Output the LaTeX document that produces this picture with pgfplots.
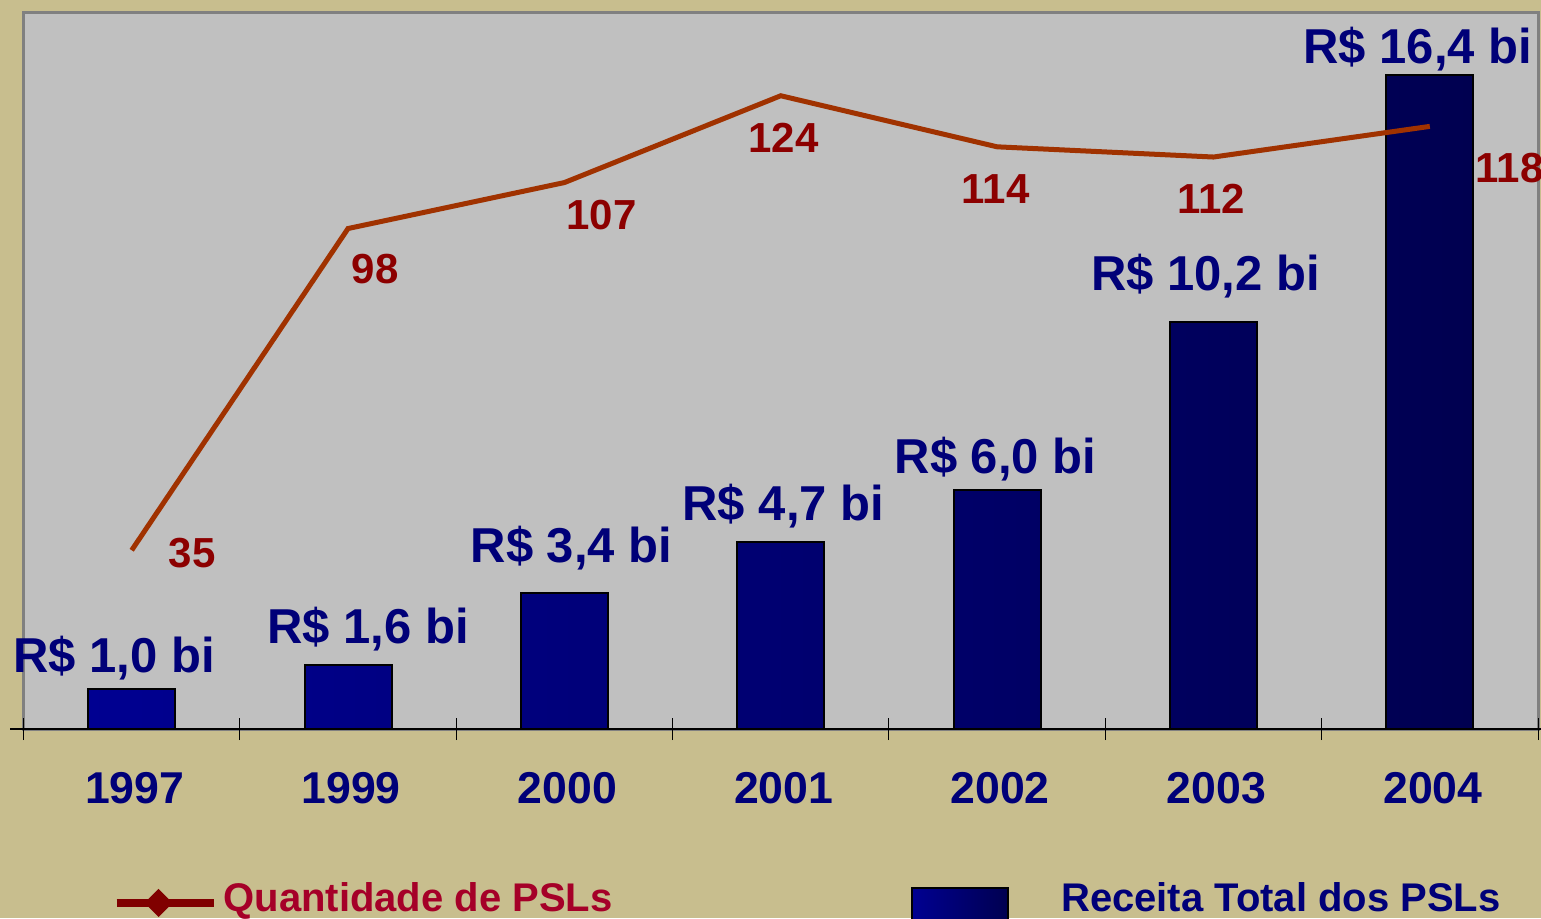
\documentclass[border=0pt]{standalone}
\usepackage{fontspec}
\setmainfont{Liberation Sans}
\usepackage{pgfplots}
\pgfplotsset{compat=1.18}
\definecolor{bgtan}{RGB}{200,190,142}
\definecolor{plotgray}{RGB}{192,192,192}
\definecolor{framegray}{RGB}{128,128,128}
\definecolor{linecol}{RGB}{160,50,0}
\definecolor{linelab}{RGB}{140,0,0}
\definecolor{navytxt}{RGB}{0,0,120}
\definecolor{barL}{RGB}{0,0,145}
\definecolor{barR}{RGB}{0,0,80}
\definecolor{legline}{RGB}{128,0,0}
\definecolor{legtxt}{RGB}{165,0,40}
\definecolor{legbox}{RGB}{0,0,128}
\tikzset{
  barlab/.style={anchor=base, text=navytxt, inner sep=0pt, font=\bfseries\fontsize{24.5}{29}\selectfont},
  linelabel/.style={anchor=base, text=linelab, inner sep=0pt, font=\bfseries\fontsize{21}{25}\selectfont},
}
\begin{document}
\begin{tikzpicture}
\path[use as bounding box, fill=bgtan] (0,0) rectangle (770.5pt,459pt);
\begin{axis}[
  at={(11.75pt,94.5pt)}, anchor=south west,
  scale only axis, width=757.25pt, height=358.25pt,
  xmin=-0.5, xmax=6.5, ymin=0, ymax=17.97,
  axis background/.style={fill=plotgray},
  axis line style={draw=framegray, line width=1.5pt},
  xtick=\empty, ytick=\empty,
  clip=false,
  legend style={at={(0.5861,-0.2371)}, anchor=west, draw=none, fill=none,
    inner sep=0pt, outer sep=0pt, column sep=26pt,
    font=\bfseries\fontsize{20}{24}\selectfont, text=navytxt, nodes={inner sep=0pt}},
]
\addplot[ybar, bar width=43.5pt, draw=black, line width=1pt, left color=barL, right color=barR,
  legend image code/.code={\draw[fill=legbox, draw=black, line width=1pt] (0pt,-20pt) rectangle (48pt,5.5pt); \path (0pt,20pt);}]
  coordinates {(0,1.0) (1,1.6) (2,3.4) (3,4.7) (4,6.0) (5,10.2) (6,16.4)};
\addlegendentry{Receita Total dos PSLs}
\node[barlab, xshift=-8.8pt, yshift=8.5pt] at (axis cs:0,1.0) {R\$ 1,0 bi};
\node[barlab, xshift=10pt, yshift=10.75pt] at (axis cs:1,1.6) {R\$ 1,6 bi};
\node[barlab, xshift=3.5pt, yshift=15.5pt] at (axis cs:2,3.4) {R\$ 3,4 bi};
\node[barlab, xshift=1.3pt, yshift=10.75pt] at (axis cs:3,4.7) {R\$ 4,7 bi};
\node[barlab, xshift=-0.8pt, yshift=8.3pt] at (axis cs:4,6.0) {R\$ 6,0 bi};
\node[barlab, xshift=-4pt, yshift=16pt] at (axis cs:5,10.2) {R\$ 10,2 bi};
\node[barlab, xshift=-6pt, yshift=5.8pt] at (axis cs:6,16.4) {R\$ 16,4 bi};
\end{axis}
\begin{axis}[
  at={(11.75pt,94.5pt)}, anchor=south west,
  scale only axis, width=757.25pt, height=358.25pt,
  xmin=-0.5, xmax=6.5, ymin=0, ymax=140.3,
  axis x line*=bottom, axis y line=none,
  x axis line style={black, line width=0.8pt, shorten <=-6.5pt, shorten >=-1.5pt},
  xtick={0,...,6}, xticklabels={1997,1999,2000,2001,2002,2003,2004},
  major tick length=0pt,
  minor xtick={-0.5,0.5,...,6.5},
  minor tick length=11pt, tick align=center,
  minor tick style={black, line width=0.5pt},
  xticklabel style={font=\bfseries\fontsize{22.3}{26}\selectfont, text=navytxt, anchor=base, xshift=1.5pt, yshift=-37pt, inner sep=0pt},
  ytick=\empty,
  clip=false,
  legend style={at={(0.0588,-0.2371)}, anchor=west, draw=none, fill=none,
    inner sep=0pt, outer sep=0pt, column sep=3pt,
    font=\bfseries\fontsize{20}{24}\selectfont, text=legtxt, nodes={inner sep=0pt}},
]
\addplot[color=linecol, line width=2.5pt,
  legend image code/.code={
    \draw[line width=4pt, color=legline] (0pt,-2pt) -- (48.5pt,-2pt);
    \fill[legline] (15.75pt,-2pt) -- (21pt,3.25pt) -- (26.25pt,-2pt) -- (21pt,-7.25pt) -- cycle;
    \path (0pt,-9pt) (0pt,9pt);}]
  coordinates {(0,35) (1,98) (2,107) (3,124) (4,114) (5,112) (6,118)};
\addlegendentry{Quantidade de PSLs}
\node[linelabel, xshift=30.2pt, yshift=-8.5pt] at (axis cs:0,35) {35};
\node[linelabel, xshift=13.5pt, yshift=-27.5pt] at (axis cs:1,98) {98};
\node[linelabel, xshift=18.5pt, yshift=-23.5pt] at (axis cs:2,107) {107};
\node[linelabel, xshift=1.3pt, yshift=-28.5pt] at (axis cs:3,124) {124};
\node[linelabel, xshift=-0.8pt, yshift=-28.3pt] at (axis cs:4,114) {114};
\node[linelabel, xshift=-1pt, yshift=-28.2pt] at (axis cs:5,112) {112};
\node[linelabel, xshift=40pt, yshift=-28pt] at (axis cs:6,118) {118};
\end{axis}
\end{tikzpicture}
\end{document}
